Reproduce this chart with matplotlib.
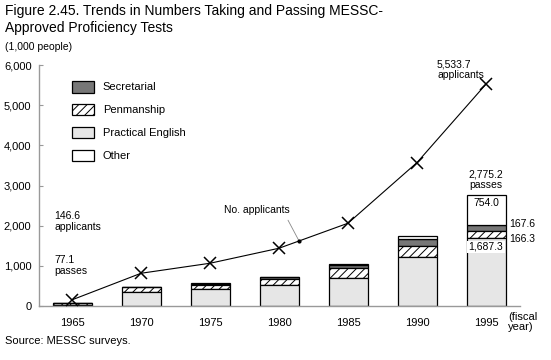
import numpy as np
import matplotlib
matplotlib.use("Agg")
import matplotlib.pyplot as plt

plt.rcParams['font.family'] = ['Liberation Sans', 'DejaVu Sans']
plt.rcParams['hatch.linewidth'] = 0.7

# Data (1,000 people)
years = [1965, 1970, 1975, 1980, 1985, 1990, 1995]
practical_english = [20, 335, 410, 518, 685, 1218, 1687.3]
penmanship = [45, 125, 115, 150, 250, 275, 166.3]
secretarial = [5, 5, 25, 40, 90, 175, 167.6]
other = [7.1, 10, 10, 20, 20, 75, 754.0]
applicants = [146.6, 810, 1060, 1435, 2060, 3575, 5533.7]

yticks = [0, 1000, 2000, 3000, 4000, 5000, 6000]
ytick_labels = ["0", "1,000", "2,000", "3,000", "4,000", "5,000", "6,000"]

fig = plt.figure(figsize=(5.51, 3.6), dpi=100)
ax = fig.add_axes([38.5 / 551, 1 - 305.7 / 360, (520 - 38.5) / 551, (305.7 - 65.4) / 360])

x = np.array(years)
w = 2.83
pe = np.array(practical_english)
pen = np.array(penmanship)
sec = np.array(secretarial)
oth = np.array(other)

b_sec = ax.bar(x, sec, w, bottom=pe + pen, color="#777777", edgecolor="black", linewidth=0.9, label="Secretarial")
b_pen = ax.bar(x, pen, w, bottom=pe, color="white", edgecolor="black", hatch="////", linewidth=0.9, label="Penmanship")
b_pe = ax.bar(x, pe, w, color="#e6e6e6", edgecolor="black", linewidth=0.9, label="Practical English")
b_oth = ax.bar(x, oth, w, bottom=pe + pen + sec, color="white", edgecolor="black", linewidth=0.9, label="Other")

ax.plot(x, applicants, color="black", linewidth=0.8, marker="x", markersize=9, markeredgewidth=1.1, zorder=5)

ax.set_xlim(1962.57, 1997.46)
ax.set_ylim(0, 6000)
ax.set_xticks(years)
ax.set_xticklabels([str(y) for y in years], fontsize=8)
ax.set_yticks(yticks)
ax.set_yticklabels(ytick_labels, fontsize=8)
ax.tick_params(axis="x", length=0, pad=9)
ax.tick_params(axis="y", direction="in", length=3, color="#999999", pad=5)
for s in ["top", "right"]:
    ax.spines[s].set_visible(False)
for s in ["left", "bottom"]:
    ax.spines[s].set_color("#999999")
    ax.spines[s].set_linewidth(1)

leg = ax.legend(handles=[b_sec, b_pen, b_pe, b_oth], loc="upper left",
                bbox_to_anchor=(71.7 / 551, 1 - 80.7 / 360), bbox_transform=fig.transFigure,
                frameon=False, fontsize=8, handlelength=2.0, handleheight=1.26,
                labelspacing=1.0, handletextpad=0.8, borderpad=0, borderaxespad=0)

# Annotations
ax.text(1963.7, 2100, "146.6\napplicants", fontsize=7.5, va="center", ha="left", linespacing=1.1)
ax.text(1963.7, 1000, "77.1\npasses", fontsize=7.5, va="center", ha="left", linespacing=1.1)
ax.text(1991.45, 5900, "5,533.7\napplicants", fontsize=7.5, va="center", ha="left", linespacing=1.1)
ax.text(1995, 3150, "2,775.2\npasses", fontsize=7.5, va="center", ha="center", linespacing=1.1)
ax.text(1995, pe[-1] + pen[-1] + sec[-1] + oth[-1] - 210, "754.0", fontsize=7.5, va="center", ha="center")
ax.text(1995, pe[-1] - 220, "1,687.3", fontsize=7.5, va="center", ha="center",
        bbox=dict(facecolor="white", edgecolor="none", pad=1.0))
ax.text(1996.7, pe[-1] + pen[-1] + sec[-1] / 2 + 100, "167.6", fontsize=7.5, va="center", ha="left")
ax.text(1996.7, pe[-1] + pen[-1] / 2 - 100, "166.3", fontsize=7.5, va="center", ha="left")

ax_x = 1981.45
ax_y = np.interp(ax_x, years, applicants)
ax.annotate("No. applicants", xy=(ax_x, ax_y), xytext=(1978.4, 2390), fontsize=7.5,
            ha="center", va="center",
            arrowprops=dict(arrowstyle="-", color="#888888", linewidth=0.6, shrinkA=2, shrinkB=0,
                            relpos=(0.93, 0.0)))
ax.plot([ax_x], [ax_y], marker="o", markersize=2, color="black", zorder=6)

ax.text(1996.6, -410, "(fiscal\nyear)", fontsize=8, va="center", ha="left", linespacing=1.05)

fig.text(5 / 551, 1 - 4 / 360, "Figure 2.45. Trends in Numbers Taking and Passing MESSC-\nApproved Proficiency Tests",
         fontsize=10, va="top", ha="left", linespacing=1.25)
fig.text(5 / 551, 1 - 47 / 360, "(1,000 people)", fontsize=7.5, va="center", ha="left")
fig.text(5 / 551, 1 - 341 / 360, "Source: MESSC surveys.", fontsize=8, va="center", ha="left")

fig.savefig("out.png", dpi=100)
